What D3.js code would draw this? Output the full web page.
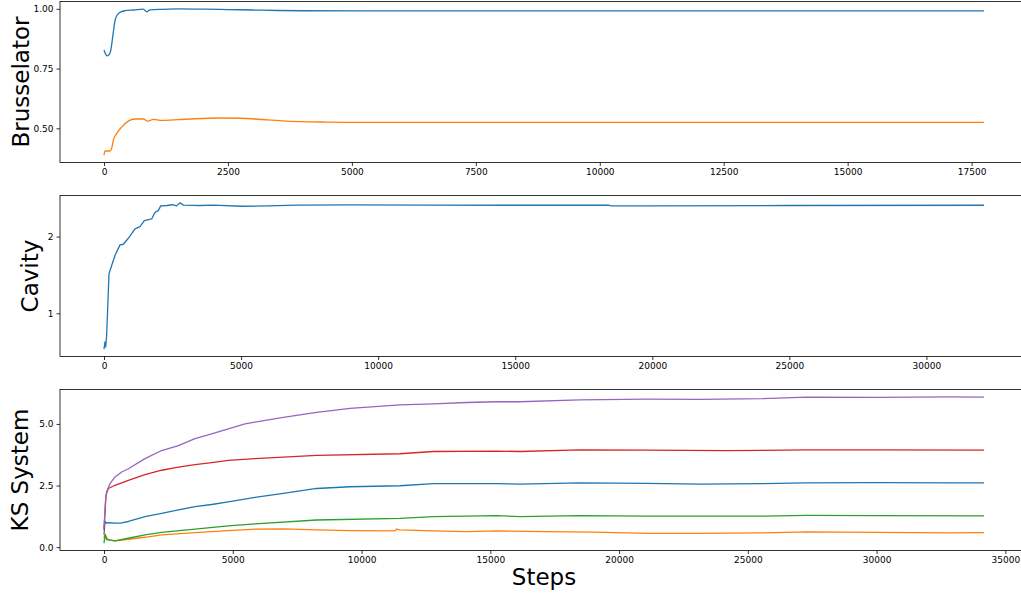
<!DOCTYPE html>
<html>
<head>
<meta charset="utf-8">
<script src="https://cdn.jsdelivr.net/npm/d3@7"></script>
<style>
  body { margin: 0; background: #fff; }
  svg text { font-family: "DejaVu Sans", sans-serif; fill: #000; }
</style>
</head>
<body>
<svg id="chart" width="1021" height="597"></svg>
<script>
// ---- data: [step, value] ----
const brussU = [[0,0.828],[30,0.812],[67,0.803],[110,0.81],[135,0.825],[180,0.89],[222,0.95],[260,0.972],[289,0.98],[350,0.988],[424,0.992],[600,0.995],[793,0.999],[860,0.9875],[928,0.996],[1200,0.998],[1500,1.0],[2000,0.999],[2500,0.997],[3000,0.995],[3500,0.993],[4000,0.992],[6000,0.991],[10000,0.991],[14000,0.991],[17750,0.991]];
const brussV = [[0,0.3875],[20,0.405],[121,0.405],[160,0.42],[188,0.45],[255,0.478],[356,0.505],[490,0.53],[625,0.539],[793,0.539],[880,0.53],[995,0.5375],[1163,0.533],[1500,0.536],[1835,0.54],[2373,0.543],[2743,0.542],[3045,0.539],[3300,0.535],[3600,0.531],[3953,0.528],[4500,0.526],[4962,0.525],[8000,0.525],[12000,0.525],[17750,0.525]];

const cavity = [[0,0.532],[36,0.627],[61,0.562],[97,0.714],[182,1.516],[280,1.623],[401,1.753],[584,1.892],[705,1.90],[888,1.978],[1131,2.10],[1314,2.13],[1472,2.208],[1740,2.23],[1861,2.316],[1983,2.338],[2068,2.40],[2300,2.405],[2500,2.415],[2650,2.40],[2774,2.44],[2900,2.41],[3500,2.405],[4000,2.41],[5000,2.395],[6000,2.40],[7000,2.41],[9000,2.412],[12000,2.41],[15000,2.408],[18400,2.41],[18500,2.40],[20000,2.40],[25000,2.405],[32100,2.408]];

const ksC0 = [[0,0.50],[39,1.04],[100,0.97],[168,0.99],[427,0.97],[686,0.98],[945,1.04],[1592,1.24],[2239,1.37],[2887,1.51],[3533,1.64],[4180,1.73],[4825,1.84],[5862,2.02],[6961,2.18],[8256,2.38],[9550,2.45],[11490,2.49],[12784,2.58],[15245,2.58],[16150,2.56],[18478,2.61],[21067,2.59],[23137,2.56],[25585,2.58],[27280,2.61],[30000,2.62],[32840,2.61],[34170,2.61]];
const ksC1 = [[0,0.36],[39,0.54],[100,0.40],[168,0.30],[427,0.25],[945,0.32],[1592,0.40],[2239,0.50],[3533,0.59],[4825,0.67],[5862,0.73],[6961,0.74],[8256,0.70],[9550,0.67],[11300,0.66],[11355,0.73],[11490,0.70],[12784,0.66],[14080,0.63],[15245,0.66],[17180,0.63],[19000,0.61],[21067,0.56],[23137,0.56],[25585,0.58],[27280,0.62],[30000,0.60],[32840,0.58],[34170,0.59]];
const ksC2 = [[0,0.16],[39,0.50],[104,0.30],[427,0.25],[945,0.36],[1592,0.50],[2239,0.60],[3533,0.73],[4825,0.86],[5862,0.94],[8256,1.10],[11490,1.17],[12784,1.24],[15245,1.28],[16150,1.24],[18478,1.28],[21067,1.26],[24173,1.26],[25585,1.26],[27280,1.29],[30000,1.28],[34170,1.27]];
const ksC3 = [[0,0.70],[78,2.11],[168,2.38],[427,2.51],[945,2.71],[1592,2.94],[2239,3.12],[2887,3.25],[3533,3.35],[4180,3.43],[4825,3.52],[5862,3.59],[8256,3.72],[11490,3.79],[12784,3.88],[15245,3.90],[16150,3.88],[18478,3.95],[21067,3.94],[24173,3.92],[25585,3.93],[27280,3.95],[30000,3.95],[34170,3.94]];
const ksC4 = [[0,0.77],[65,1.98],[104,2.25],[233,2.58],[427,2.85],[686,3.05],[945,3.18],[1592,3.59],[2239,3.92],[2887,4.12],[3533,4.40],[4180,4.60],[4825,4.80],[5474,5.0],[5862,5.07],[6961,5.27],[8256,5.47],[9550,5.63],[11490,5.77],[12784,5.81],[14080,5.87],[15245,5.90],[16150,5.90],[18478,5.98],[21067,6.01],[23137,6.00],[25585,6.03],[27280,6.09],[30000,6.08],[32840,6.10],[34170,6.09]];

// tick values
const brussXTicks = [0, 2500, 5000, 7500, 10000, 12500, 15000, 17500];
const brussYTicks = [0.5, 0.75, 1.0];
const cavXTicks = [0, 5000, 10000, 15000, 20000, 25000, 30000];
const cavYTicks = [1, 2];
const ksXTicks = [0, 5000, 10000, 15000, 20000, 25000, 30000, 35000];
const ksYTicks = [0, 2.5, 5.0];

const tab10 = ["#1f77b4", "#ff7f0e", "#2ca02c", "#d62728", "#9467bd"];

const panels = [
    { label: "Brusselator", series: [brussU, brussV], xTicks: brussXTicks, yTicks: brussYTicks, yFmt: d3.format(".2f"), top: 1.5, labelX: 29, curve: d3.curveMonotoneX },
    { label: "Cavity", series: [cavity], xTicks: cavXTicks, yTicks: cavYTicks, yFmt: d3.format("d"), top: 195.5, labelX: 38, curve: d3.curveLinear },
    { label: "KS System", series: [ksC0, ksC1, ksC2, ksC3, ksC4], xTicks: ksXTicks, yTicks: ksYTicks, yFmt: d3.format(".1f"), top: 389.5, labelX: 28, curve: d3.curveLinear }
];

const left = 60, axW = 968, axH = 161;
const svg = d3.select("#chart");

// matplotlib-style 5% padding
function padded(ext) {
    const r = ext[1] - ext[0];
    return [ext[0] - 0.05 * r, ext[1] + 0.05 * r];
}

panels.forEach(p => {
    const all = p.series.flat();
    const x = d3.scaleLinear().domain(padded(d3.extent(all, d => d[0]))).range([0, axW]);
    const y = d3.scaleLinear().domain(padded(d3.extent(all, d => d[1]))).range([axH, 0]);

    const g = svg.append("g").attr("transform", `translate(${left},${p.top})`);

    const line = d3.line().x(d => x(d[0])).y(d => y(d[1])).curve(p.curve);
    g.selectAll(".series")
        .data(p.series)
        .enter().append("path")
        .attr("class", "series")
        .attr("fill", "none")
        .attr("stroke", (d, i) => tab10[i])
        .attr("stroke-width", 1.3)
        .attr("stroke-linejoin", "round")
        .attr("d", line);

    // axes
    const xAxis = g.append("g").attr("transform", `translate(0,${axH})`)
        .call(d3.axisBottom(x).tickValues(p.xTicks).tickFormat(d3.format("d")).tickSizeInner(3.5).tickSizeOuter(0).tickPadding(3));
    const yAxis = g.append("g")
        .call(d3.axisLeft(y).tickValues(p.yTicks).tickFormat(p.yFmt).tickSizeInner(3.5).tickSizeOuter(0).tickPadding(3));
    [xAxis, yAxis].forEach(a => {
        a.select(".domain").remove();
        a.selectAll("line").attr("stroke", "#000").attr("stroke-width", 0.8);
        a.selectAll("text").style("font-size", "9px").attr("fill", "#000");
    });

    // spines
    g.append("rect")
        .attr("width", axW).attr("height", axH)
        .attr("fill", "none").attr("stroke", "#000").attr("stroke-width", 0.8);

    // y label
    svg.append("text")
        .attr("transform", `translate(${p.labelX},${p.top + axH / 2}) rotate(-90)`)
        .attr("text-anchor", "middle")
        .style("font-size", "23px")
        .text(p.label);
});

svg.append("text")
    .attr("x", left + axW / 2).attr("y", 585)
    .attr("text-anchor", "middle")
    .style("font-size", "23px")
    .text("Steps");
</script>
</body>
</html>
